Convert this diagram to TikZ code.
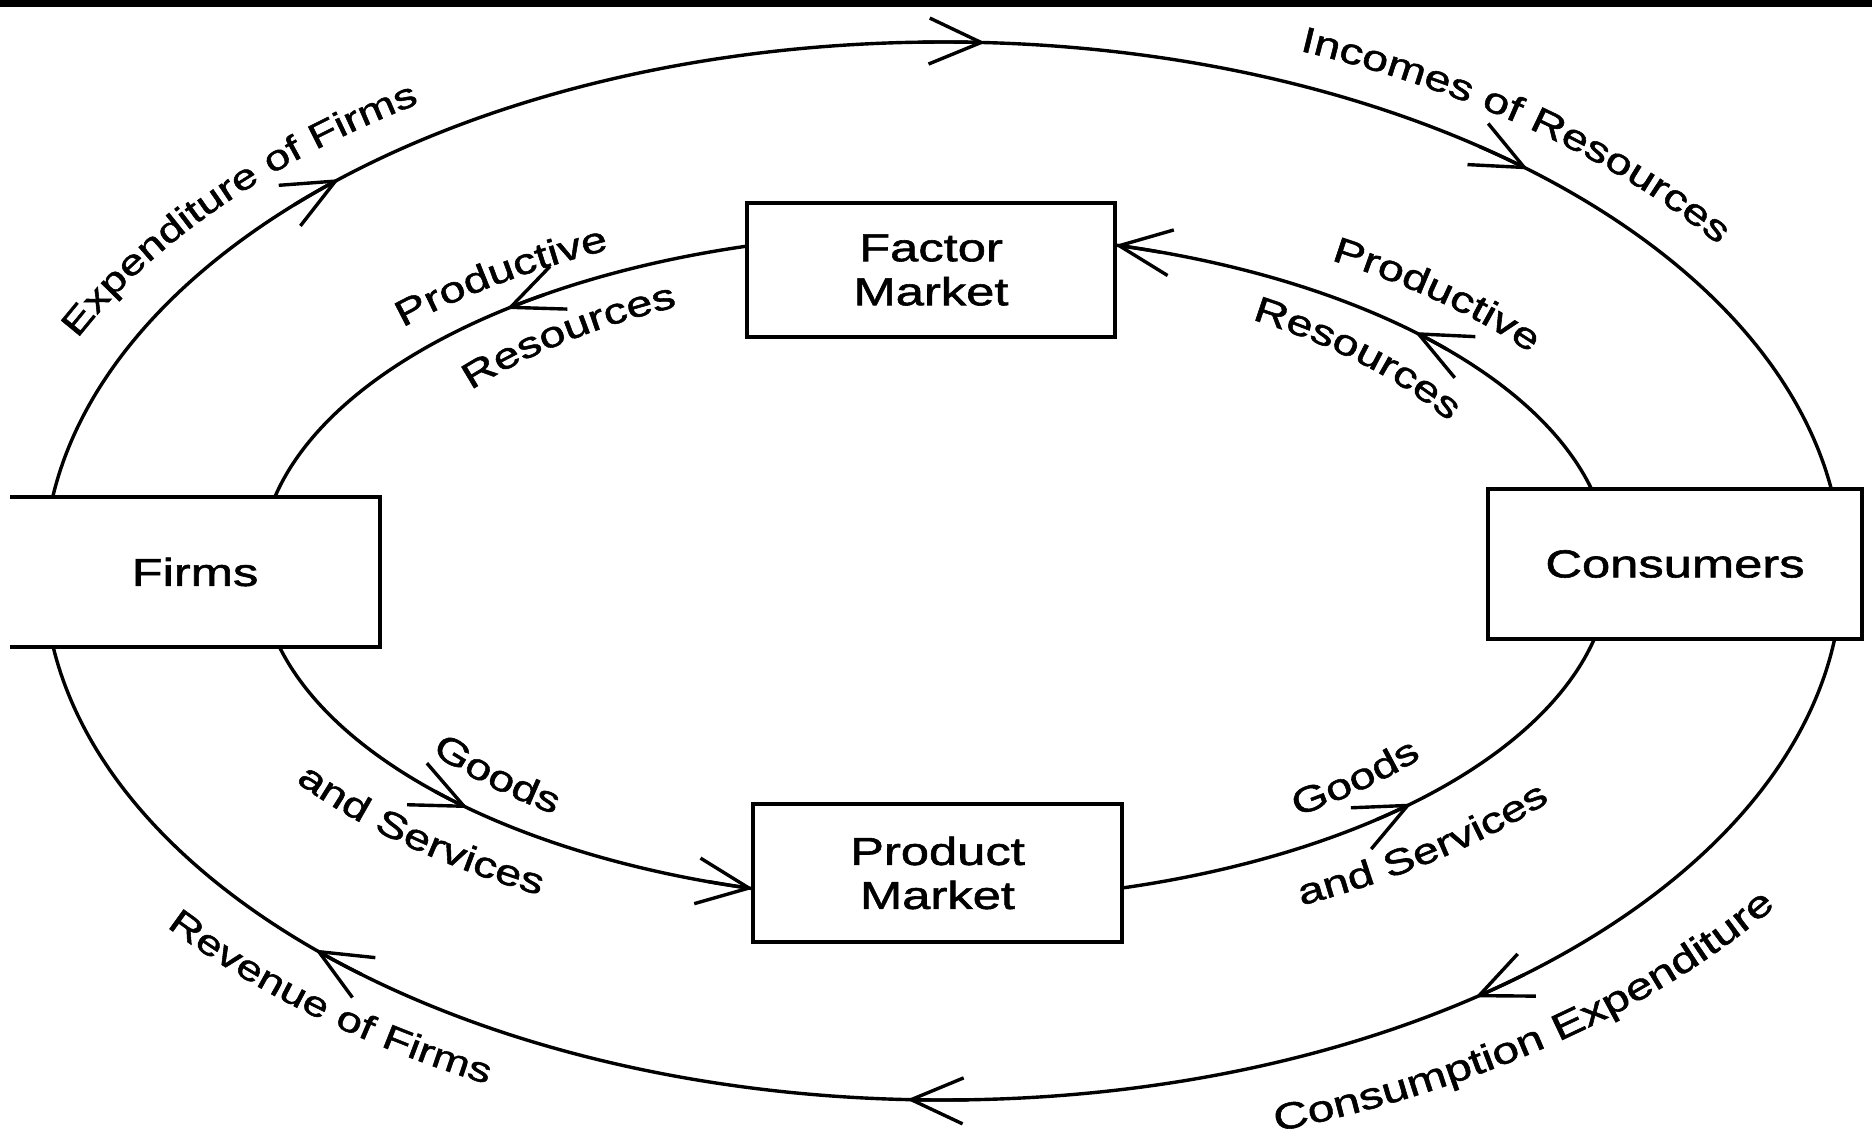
\documentclass[tikz,border=0pt]{standalone}
\usepackage{fontspec}
\setmainfont{Liberation Sans}[FakeStretch=1.3,FakeBold=1.5]
\usetikzlibrary{arrows.meta,decorations.text}
\newcommand\lblfont{\fontsize{36pt}{36pt}\selectfont}
\newcommand\lblsmall{\fontsize{35pt}{35pt}\selectfont}
\newcommand\lblbig{\fontsize{37pt}{37pt}\selectfont}
\newcommand\boxfont{\fontsize{39pt}{44pt}\selectfont}
\begin{document}
\begin{tikzpicture}[x=1pt,y=-1pt,
  flow/.style={line width=3.4pt},
  flowtip/.tip={Straight Barb[length=52pt,width=46pt]},
  boxline/.style={line width=3.8pt},
  box/.style={draw,line width=3.8pt,fill=white,inner sep=0pt,outer sep=0pt,align=center,font=\boxfont},
  lbl/.style={decorate,decoration={text along path,text={|\lblfont|#1},text align=center}},
  lblS/.style={decorate,decoration={text along path,text={|\lblsmall|#1},text align=center}},
  lblB/.style={decorate,decoration={text along path,text={|\lblbig|#1},text align=center}}]
\fill[white,use as bounding box] (0,0) rectangle (1872,1131);
\fill[black] (0,0) rectangle (1872,7.5);

% outer and inner flows
\draw[flow] (943,571) ellipse[x radius=899, y radius=529];
\draw[flow] (935,567) ellipse[x radius=675, y radius=334];

% boxes
\node[box,minimum width=368pt,minimum height=134pt] (factor) at (931,270) {Factor\\Market};
\node[box,minimum width=369pt,minimum height=138pt] (product) at (937.5,873) {Product\\Market};
\node[box,minimum width=374pt,minimum height=150pt] (consumers) at (1675,564) {Consumers};
\node[box,draw=none,minimum width=370pt,minimum height=150pt] (firms) at (195,572) {Firms};
\draw[boxline] (firms.north west) -- (firms.north east) -- (firms.south east) -- (firms.south west);

% outer arrows (clockwise)
\begin{scope}[shift={(943,571)}]
  \foreach \t in {-87.3,-132.2,-49.4,53.7,92.3,134.3}
    \draw[flow,-flowtip] (\t-4:899 and 529) arc[start angle=\t-4,end angle=\t,x radius=899,y radius=529];
  \path[lblS={Expenditure of Firms}] (-166:951 and 560) arc[start angle=-166,end angle=-116,x radius=951,y radius=560];
  \path[lbl={Incomes of Resources}] (-73:953 and 561) arc[start angle=-73,end angle=-29,x radius=953,y radius=561];
  \path[lblS={Revenue of Firms}] (148.5:984 and 579) arc[start angle=148.5,end angle=112.5,x radius=984,y radius=579];
  \path[lblB={Consumption Expenditure}] (76.5:1009 and 594) arc[start angle=76.5,end angle=26.5,x radius=1009,y radius=594];
\end{scope}

% inner arrows (counter-clockwise)
\begin{scope}[shift={(935,567)}]
  \foreach \t in {-129.4,-74.53,-44.7,45.1,133.8,105.64}
    \draw[flow,-flowtip] (\t+4:675 and 334) arc[start angle=\t+4,end angle=\t,x radius=675,y radius=334];
  \path[lbl={Productive}] (-144:719 and 356) arc[start angle=-144,end angle=-112,x radius=719,y radius=356];
  \path[lbl={Resources}] (-148:585 and 290) arc[start angle=-148,end angle=-112,x radius=585,y radius=290];
  \path[lbl={Productive}] (-62:736 and 364) arc[start angle=-62,end angle=-30,x radius=736,y radius=364];
  \path[lbl={Resources}] (-61:592 and 293) arc[start angle=-61,end angle=-25,x radius=592,y radius=293];
  \path[lbl={Goods}] (150:628 and 311) arc[start angle=150,end angle=122,x radius=628,y radius=311];
  \path[lbl={and Services}] (154.5:773 and 382) arc[start angle=154.5,end angle=114.5,x radius=773,y radius=382];
  \path[lbl={Goods}] (59.7:621 and 307) arc[start angle=59.7,end angle=31.7,x radius=621,y radius=307];
  \path[lbl={and Services}] (68.5:776 and 384) arc[start angle=68.5,end angle=28.5,x radius=776,y radius=384];
\end{scope}
\end{tikzpicture}
\end{document}
